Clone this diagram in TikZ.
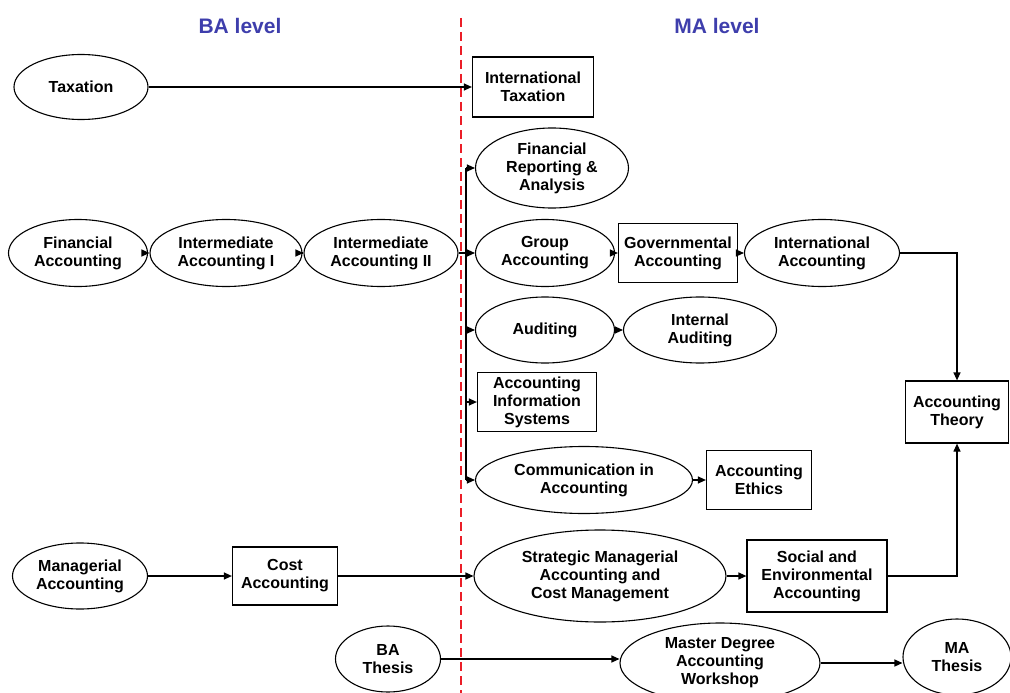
\documentclass[tikz,border=0pt]{standalone}
\usepackage{fontspec}
\setmainfont{Liberation Sans}
\definecolor{LevelBlue}{RGB}{62,62,172}
\definecolor{DividerRed}{RGB}{235,30,40}
\usetikzlibrary{
    shapes.geometric,
    arrows.meta,
    calc,
}
\newcommand{\coursefont}{\fontsize{16}{18}\selectfont\bfseries}
\newcommand{\levelfont}{\fontsize{21}{24}\selectfont\bfseries}
\tikzset{
    course/.style={ellipse, draw, line width=1.1pt, inner sep=0pt, align=center, font=\coursefont},
    module/.style={rectangle, draw, line width=1.2pt, inner sep=2pt, align=center, font=\coursefont},
    level/.style={font=\levelfont, text=LevelBlue},
    link/.style={line width=1.2pt, -{Triangle[length=8pt,width=7pt]}},
    plain/.style={line width=1.2pt},
}

\begin{document}
\begin{tikzpicture}[x=1pt, y=-1pt]
    \useasboundingbox (0,0) rectangle (1010,693);
    \clip (0,0) rectangle (1010,693);

    % level headings and divider
    \node[level] (ba) at (240,26) {BA level};
    \node[level] (ma) at (717,26) {MA level};
    \coordinate (divtop) at (461,18);
    \coordinate (divbot) at (461,693);
    \draw[DividerRed, line width=1.3pt, dash pattern=on 9pt off 5pt] (divtop) -- (divbot);

    % courses
    \node[course, minimum width=134, minimum height=65] (tax) at (81,87) {Taxation};
    \node[module, minimum width=121, minimum height=60] (itax) at (533,87) {International\\Taxation};
    \node[course, minimum width=153, minimum height=80] (frep) at (552,168) {Financial\\Reporting \&\\Analysis};
    \node[course, minimum width=139, minimum height=67] (fin) at (78,253) {Financial\\Accounting};
    \node[course, minimum width=152, minimum height=67] (ia1) at (226,253) {Intermediate\\Accounting I};
    \node[course, minimum width=154, minimum height=67] (ia2) at (381,253) {Intermediate\\Accounting II};
    \node[course, minimum width=139, minimum height=67] (grp) at (545,253) {Group\\Accounting};
    \node[module, minimum width=119, minimum height=59] (gov) at (678,253) {Governmental\\Accounting};
    \node[course, minimum width=155, minimum height=67] (intacc) at (822,253) {International\\Accounting};
    \node[course, minimum width=139, minimum height=66] (aud) at (545,330) {Auditing};
    \node[course, minimum width=153, minimum height=66] (iaud) at (700,330) {Internal\\Auditing};
    \node[module, minimum width=119, minimum height=59] (ais) at (537,402) {Accounting\\Information\\Systems};
    \node[course, minimum width=217, minimum height=67] (comm) at (584,480) {Communication in\\Accounting};
    \node[module, minimum width=105, minimum height=59] (ethics) at (759,480) {Accounting\\Ethics};
    \node[module, minimum width=103, minimum height=62] (theory) at (957,412) {Accounting\\Theory};
    \node[course, minimum width=135, minimum height=66] (mgr) at (80,576) {Managerial\\Accounting};
    \node[module, minimum width=105, minimum height=58] (cost) at (285,576) {Cost\\Accounting};
    \node[course, minimum width=252, minimum height=92] (smacm) at (600,576) {Strategic Managerial\\Accounting and\\Cost Management};
    \node[module, minimum width=140, minimum height=72] (social) at (817,576) {Social and\\Environmental\\Accounting};
    \node[course, minimum width=105, minimum height=66] (bath) at (388,659) {BA\\Thesis};
    \node[course, minimum width=200, minimum height=80] (mdaw) at (720,663) {Master Degree\\Accounting\\Workshop};
    \node[course, minimum width=108, minimum height=76] (math) at (957,657) {MA\\Thesis};

    % connectors
    \draw[link] (tax) -- (itax);
    \draw[link] (fin) -- (ia1);
    \draw[link] (ia1) -- (ia2);
    \coordinate (hub) at (466,253);
    \draw[plain] (ia2.east) -- (hub);
    \draw[plain] (hub |- frep.west) -- (hub |- comm.west);
    \foreach \target in {frep, grp, aud, ais, comm}
        \draw[link] (hub |- \target.west) -- (\target.west);
    \draw[link] (grp) -- (gov);
    \draw[link] (gov) -- (intacc);
    \draw[link] (aud) -- (iaud);
    \draw[link] (comm) -- (ethics);
    \draw[link] (intacc.east) -| (theory.north);
    \draw[link] (mgr) -- (cost);
    \draw[link] (cost) -- (smacm);
    \draw[link] (smacm) -- (social);
    \draw[link] (social.east) -| (theory.south);
    \draw[link] (bath.east) -- (bath.east -| mdaw.west);
    \draw[link] (mdaw.east) -- (mdaw.east -| math.west);
\end{tikzpicture}
\end{document}
